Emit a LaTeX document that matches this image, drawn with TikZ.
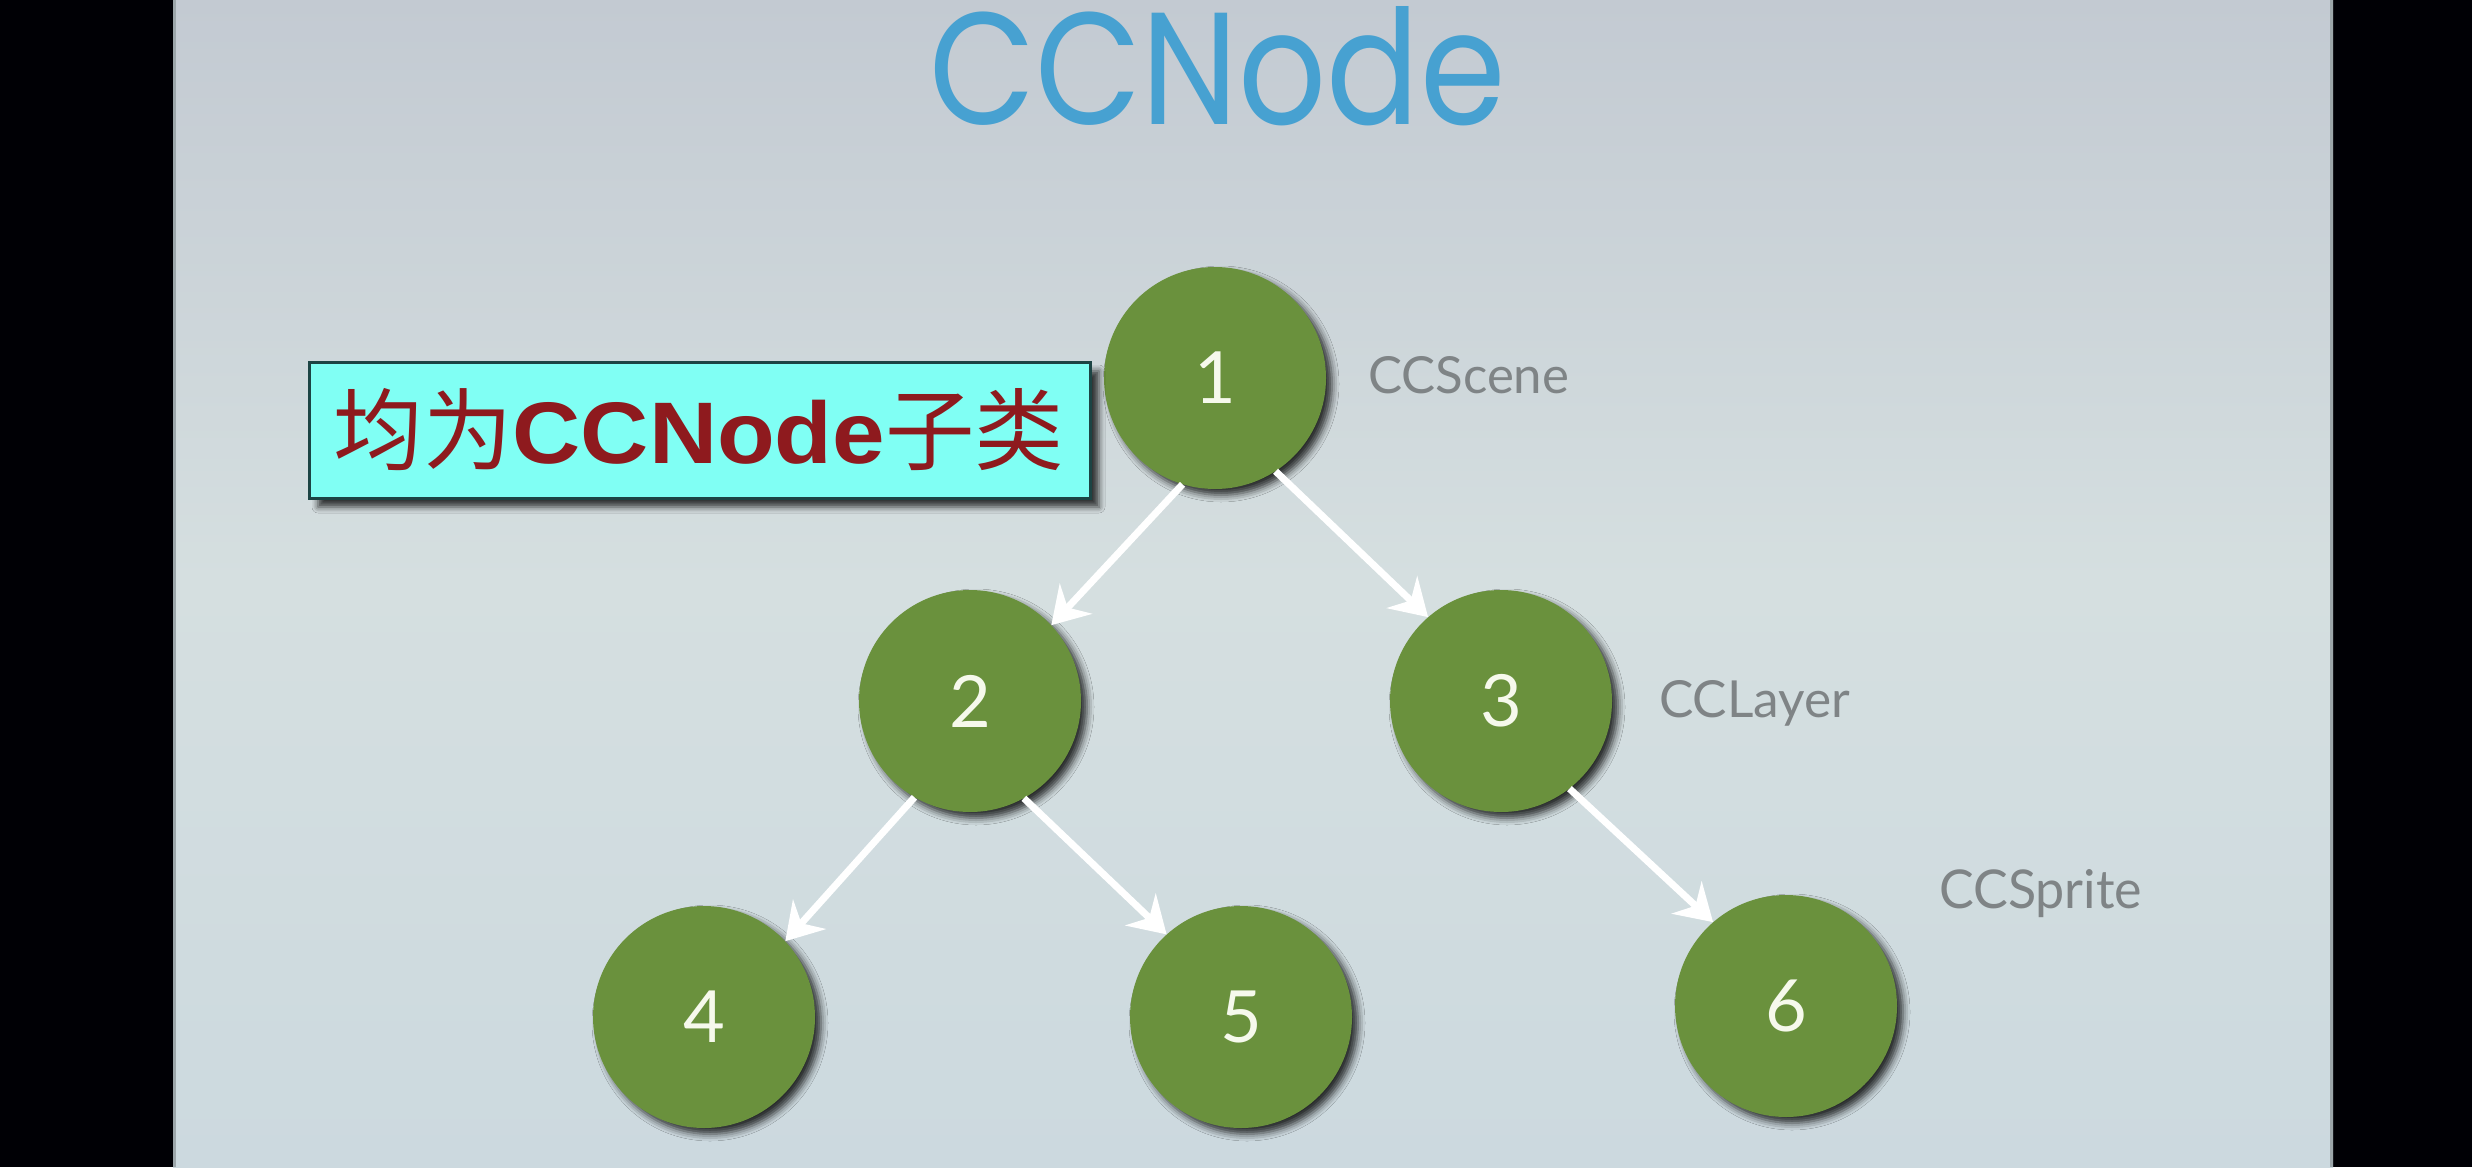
\documentclass[tikz,border=0pt]{standalone}
\usepackage{fontspec}
\usetikzlibrary{arrows.meta,shadows.blur}
\newfontfamily\cjkfont{Noto Sans CJK SC}
\newfontfamily\titlefont{Poppins}
\newfontfamily\labelfont{Lato}
\newfontfamily\boldsans{Liberation Sans}
\definecolor{bgtop}{HTML}{C3CAD2}
\definecolor{bgmid}{HTML}{D5DFE0}
\definecolor{bgbot}{HTML}{CCD9DF}
\definecolor{nodegreen}{HTML}{6A913D}
\definecolor{digitwhite}{HTML}{F6F9EC}
\definecolor{labelgray}{HTML}{7F8486}
\definecolor{titleblue}{HTML}{47A1D1}
\definecolor{boxcyan}{HTML}{80FFF4}
\definecolor{boxborder}{HTML}{1C4444}
\definecolor{boxred}{HTML}{8E1A1E}
\definecolor{edgegray}{HTML}{9CA6AA}
\tikzset{
  tnode/.style={circle, fill=nodegreen, minimum size=222pt, inner sep=0pt,
    text=digitwhite, font=\labelfont\fontsize{72}{72}\selectfont,
    blur shadow={shadow xshift=6pt, shadow yshift=-6pt, shadow blur radius=7pt, shadow opacity=80}},
  link/.style={draw=white, line width=7pt, -{Stealth[length=36pt,width=44pt,inset=12pt]}},
  cls/.style={anchor=base west, text=labelgray, inner sep=0pt}
}
\begin{document}
\begin{tikzpicture}[x=1pt,y=-1pt]
\useasboundingbox (0,0) rectangle (2472,1167);
\fill[black!98!blue] (0,0) rectangle (2472,1167);
\shade[top color=bgtop, bottom color=bgbot, middle color=bgmid] (173,0) rectangle (2333,1167);
\draw[edgegray, line width=3pt] (174.5,0) -- (174.5,1167);
\draw[edgegray, line width=3pt] (2331.5,0) -- (2331.5,1167);

% title
\node[anchor=base west, inner sep=0pt, text=titleblue] (title) at (929,124)
  {\resizebox{576pt}{118pt}{\titlefont CCNode}};

% tree nodes
\node[tnode] (n1) at (1215,378) {1};
\node[tnode] (n2) at (970,701) {2};
\node[tnode] (n3) at (1501,701) {3};
\node[tnode] (n4) at (704,1017) {4};
\node[tnode] (n5) at (1241,1017) {5};
\node[tnode] (n6) at (1786,1006) {6};

% connectors
\draw[link] (n1.253) -- (n2.43);
\draw[link] (n1.303) -- (n3.131);
\draw[link] (n2.240) -- (n4.43);
\draw[link] (n2.299) -- (n5.132);
\draw[link] (n3.308) -- (n6.131);

% class labels
\node[cls] (lscene) at (1368,393) {\resizebox{201pt}{37pt}{\labelfont CCScene}};
\node[cls] (llayer) at (1659,717) {\resizebox{191pt}{37pt}{\labelfont CCLayer}};
\node[cls] (lsprite) at (1939,908) {\resizebox{203pt}{39pt}{\labelfont CCSprite}};

% callout box
\node[draw=boxborder, line width=3pt, fill=boxcyan, minimum width=781pt, minimum height=136pt,
  inner sep=0pt, blur shadow={shadow xshift=9pt, shadow yshift=-9pt, shadow blur radius=6pt, shadow opacity=75}]
  (box) at (699.5,430) {};
\node[anchor=base, inner sep=0pt, text=boxred] (boxtext) at (699,463)
  {\resizebox{730pt}{!}{\fontsize{90}{100}\selectfont\cjkfont 均为\scalebox{1.08}[1]{\boldsans\bfseries\fontsize{88}{100}\selectfont CCNode}子类}};
\end{tikzpicture}
\end{document}
